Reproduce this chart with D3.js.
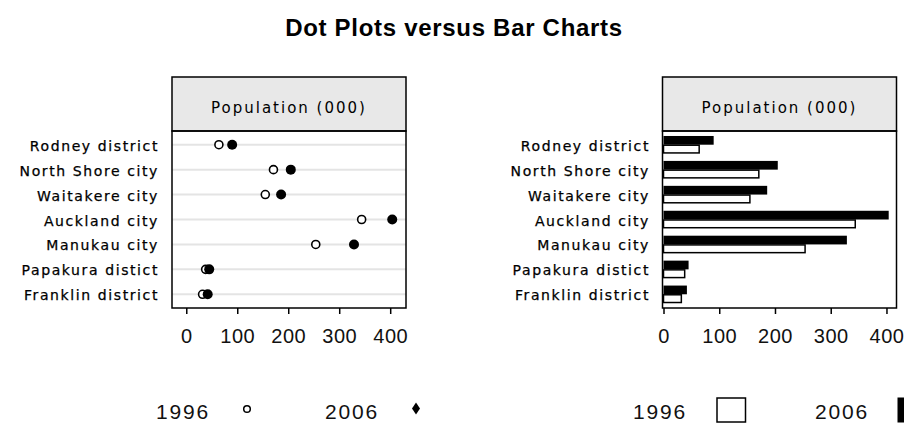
<!DOCTYPE html>
<html>
<head>
<meta charset="utf-8">
<script src="https://cdn.jsdelivr.net/npm/d3@7"></script>
<style>
  html, body { margin: 0; padding: 0; background: #fff; }
  svg { display: block; }
</style>
</head>
<body>
<svg id="chart" width="904" height="424"></svg>
<script>
// ---- data ----
const categories = ["Rodney district", "North Shore city", "Waitakere city", "Auckland city", "Manukau city", "Papakura distict", "Franklin district"];
const pop1996 = [64, 171, 155, 344, 254, 38, 32];
const pop2006 = [90, 205, 186, 404, 329, 45, 42];
const years = ["1996", "2006"];
const tickValues = [0, 100, 200, 300, 400];
const stripLabel = "Population (000)";
const title = "Dot Plots versus Bar Charts";

const svg = d3.select("#chart");
const labelFont = "DejaVu Sans, Verdana, sans-serif";
const numFont = "Liberation Sans, Arial, sans-serif";

svg.append("text")
  .attr("x", 454).attr("y", 36)
  .attr("text-anchor", "middle")
  .attr("font-family", numFont)
  .attr("font-weight", "bold")
  .attr("font-size", 24)
  .attr("letter-spacing", 0.7)
  .attr("fill", "#000")
  .text(title);

function panel(left, right, labelRight, xDomain, xRange) {
  const top = 77, stripBottom = 131, bottom = 308;
  const x = d3.scaleLinear().domain(xDomain).range(xRange);
  const y = d3.scaleBand().domain(categories).range([stripBottom, bottom]).paddingInner(0.3).paddingOuter(0.2);
  const g = svg.append("g");
  // strip
  g.append("rect").attr("x", left).attr("y", top).attr("width", right - left).attr("height", stripBottom - top)
    .attr("fill", "#e8e8e8").attr("stroke", "#000").attr("stroke-width", 1.5);
  g.append("text").attr("x", (left + right) / 2).attr("y", 113)
    .attr("text-anchor", "middle").attr("font-family", labelFont).attr("font-size", 15)
    .attr("letter-spacing", 2).attr("fill", "#000").text(stripLabel);
  // category labels
  g.selectAll("text.cat").data(categories).join("text").attr("class", "cat")
    .attr("x", labelRight).attr("y", d => y(d) + y.bandwidth() / 2 + 6)
    .attr("text-anchor", "end").attr("font-family", labelFont).attr("font-size", 14)
    .attr("letter-spacing", 1.6).attr("fill", "#000")
    .attr("stroke", "#000").attr("stroke-width", 0.25).text(d => d);
  // x axis
  const axis = d3.axisBottom(x).tickValues(tickValues).tickSize(6).tickPadding(15).tickFormat(d3.format("d"));
  const ag = g.append("g").attr("transform", `translate(0,${bottom})`).call(axis);
  ag.select(".domain").remove();
  ag.selectAll("line").attr("stroke", "#000").attr("stroke-width", 1.5);
  ag.selectAll("text").attr("font-family", numFont).attr("font-size", 20).attr("letter-spacing", 0.5).attr("fill", "#111");
  return { g, x, y, top, stripBottom, bottom, left, right };
}

// ---- left: dot plot ----
const P1 = panel(172, 406, 159, [-28, 431], [172, 406]);
P1.g.selectAll("line.grid").data(categories).join("line").attr("class", "grid")
  .attr("x1", P1.left).attr("x2", P1.right)
  .attr("y1", d => P1.y(d) + P1.y.bandwidth() / 2).attr("y2", d => P1.y(d) + P1.y.bandwidth() / 2)
  .attr("stroke", "#e4e4e4").attr("stroke-width", 2);
P1.g.selectAll("circle.o").data(categories).join("circle").attr("class", "o")
  .attr("cx", (d, i) => P1.x(pop1996[i])).attr("cy", d => P1.y(d) + P1.y.bandwidth() / 2)
  .attr("r", 4).attr("fill", "#fff").attr("stroke", "#000").attr("stroke-width", 1.6);
P1.g.selectAll("circle.f").data(categories).join("circle").attr("class", "f")
  .attr("cx", (d, i) => P1.x(pop2006[i])).attr("cy", d => P1.y(d) + P1.y.bandwidth() / 2)
  .attr("r", 5).attr("fill", "#000");
P1.g.append("rect").attr("x", P1.left).attr("y", P1.stripBottom).attr("width", P1.right - P1.left)
  .attr("height", P1.bottom - P1.stripBottom).attr("fill", "none").attr("stroke", "#000").attr("stroke-width", 1.5);

// ---- right: bar chart ----
const P2 = panel(662.5, 896.5, 650, [0, 418], [663.5, 896.5]);
const inner = d3.scaleBand().domain(["2006", "1996"]).range([0, P2.y.bandwidth()]);
P2.g.selectAll("rect.b06").data(categories).join("rect").attr("class", "b06")
  .attr("x", P2.x(0)).attr("y", d => P2.y(d) + inner("2006"))
  .attr("width", (d, i) => P2.x(pop2006[i]) - P2.x(0)).attr("height", inner.bandwidth())
  .attr("fill", "#000");
P2.g.selectAll("rect.b96").data(categories).join("rect").attr("class", "b96")
  .attr("x", P2.x(0)).attr("y", d => P2.y(d) + inner("1996") + 0.5)
  .attr("width", (d, i) => P2.x(pop1996[i]) - P2.x(0)).attr("height", inner.bandwidth() - 1)
  .attr("fill", "#fff").attr("stroke", "#000").attr("stroke-width", 1.5);
P2.g.append("rect").attr("x", P2.left).attr("y", P2.stripBottom).attr("width", P2.right - P2.left)
  .attr("height", P2.bottom - P2.stripBottom).attr("fill", "none").attr("stroke", "#000").attr("stroke-width", 1.5);

// ---- legends ----
const leg = svg.append("g").attr("font-family", numFont).attr("font-size", 21).attr("letter-spacing", 1.8).attr("fill", "#111");
leg.append("text").attr("x", 156).attr("y", 418.5).text(years[0]);
leg.append("circle").attr("cx", 247).attr("cy", 409).attr("r", 3.3).attr("fill", "#fff").attr("stroke", "#000").attr("stroke-width", 1.5);
leg.append("text").attr("x", 325).attr("y", 418.5).text(years[1]);
leg.append("path").attr("d", "M416,402.5 L420,408.5 L416,414.5 L412,408.5 Z").attr("fill", "#000");
leg.append("text").attr("x", 633).attr("y", 418.5).text(years[0]);
leg.append("rect").attr("x", 717).attr("y", 398).attr("width", 28.5).attr("height", 24).attr("fill", "#fff").attr("stroke", "#000").attr("stroke-width", 1.5);
leg.append("text").attr("x", 815).attr("y", 418.5).text(years[1]);
leg.append("rect").attr("x", 897.5).attr("y", 397.5).attr("width", 20).attr("height", 25).attr("fill", "#000");
</script>
</body>
</html>
